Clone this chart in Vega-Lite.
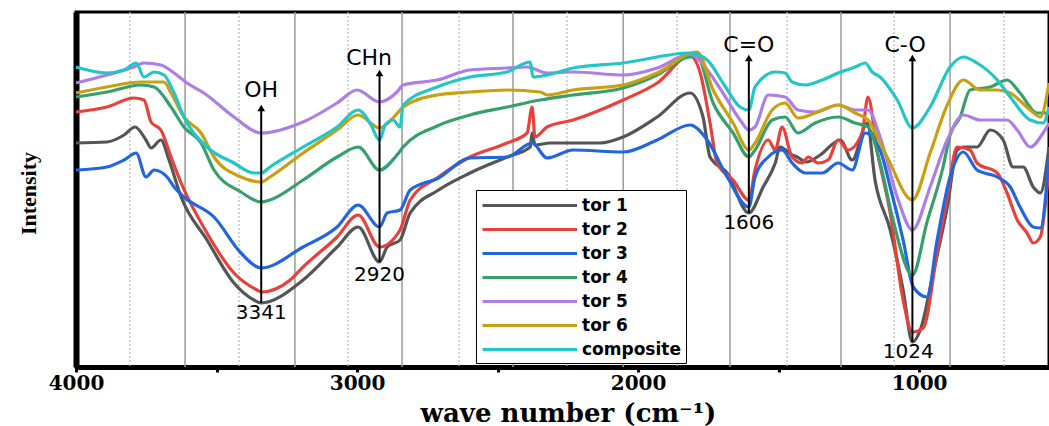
{
  "$schema": "https://vega.github.io/schema/vega-lite/v6.json",
  "width": 973,
  "height": 355,
  "autosize": {"type": "none"},
  "padding": {"left": 76, "top": 12, "right": 0, "bottom": 59},
  "background": "white",
  "config": {"view": {"stroke": "black", "strokeWidth": 3}},
  "datasets": {
    "gridSolid": [{"wn": 3612}, {"wn": 3221}, {"wn": 2840}, {"wn": 2445}, {"wn": 2053}, {"wn": 1673}, {"wn": 1278}, {"wn": 890}],
    "gridDotted": [{"wn": 3808}, {"wn": 3420}, {"wn": 3032}, {"wn": 2637}, {"wn": 2253}, {"wn": 1861}, {"wn": 1470}, {"wn": 1089}, {"wn": 698}],
    "arrows": [
      {"wn": 3341, "v1": 64, "v2": 259},
      {"wn": 2920, "v1": 105, "v2": 294},
      {"wn": 1606, "v1": 154, "v2": 309},
      {"wn": 1024, "v1": 25, "v2": 309}
    ],
    "bonds": [
      {"wn": 3341, "v": 277, "label": "OH"},
      {"wn": 2957, "v": 309, "label": "CHn"},
      {"wn": 1606, "v": 322, "label": "C=O"},
      {"wn": 1050, "v": 322, "label": "C-O"}
    ],
    "peaks": [
      {"wn": 3341, "v": 54, "label": "3341"},
      {"wn": 2920, "v": 92, "label": "2920"},
      {"wn": 1606, "v": 144, "label": "1606"},
      {"wn": 1039, "v": 15, "label": "1024"}
    ],
    "spectra": [
      {"s": "tor 1", "wn": 4000, "v": 224}, {"s": "tor 1", "wn": 3890, "v": 225}, {"s": "tor 1", "wn": 3829, "v": 232}, {"s": "tor 1", "wn": 3790, "v": 240}, {"s": "tor 1", "wn": 3751, "v": 227}, {"s": "tor 1", "wn": 3733, "v": 219}, {"s": "tor 1", "wn": 3698, "v": 227}, {"s": "tor 1", "wn": 3669, "v": 207}, {"s": "tor 1", "wn": 3626, "v": 170}, {"s": "tor 1", "wn": 3534, "v": 127}, {"s": "tor 1", "wn": 3438, "v": 84}, {"s": "tor 1", "wn": 3367, "v": 67}, {"s": "tor 1", "wn": 3341, "v": 64}, {"s": "tor 1", "wn": 3192, "v": 87}, {"s": "tor 1", "wn": 3071, "v": 120}, {"s": "tor 1", "wn": 2996, "v": 140}, {"s": "tor 1", "wn": 2920, "v": 105}, {"s": "tor 1", "wn": 2893, "v": 120}, {"s": "tor 1", "wn": 2847, "v": 127}, {"s": "tor 1", "wn": 2811, "v": 154}, {"s": "tor 1", "wn": 2710, "v": 177}, {"s": "tor 1", "wn": 2598, "v": 194}, {"s": "tor 1", "wn": 2466, "v": 210}, {"s": "tor 1", "wn": 2384, "v": 220}, {"s": "tor 1", "wn": 2377, "v": 234}, {"s": "tor 1", "wn": 2367, "v": 222}, {"s": "tor 1", "wn": 2313, "v": 224}, {"s": "tor 1", "wn": 2231, "v": 224}, {"s": "tor 1", "wn": 2135, "v": 224}, {"s": "tor 1", "wn": 2053, "v": 230}, {"s": "tor 1", "wn": 1932, "v": 250}, {"s": "tor 1", "wn": 1815, "v": 274}, {"s": "tor 1", "wn": 1769, "v": 250}, {"s": "tor 1", "wn": 1744, "v": 210}, {"s": "tor 1", "wn": 1683, "v": 194}, {"s": "tor 1", "wn": 1606, "v": 154}, {"s": "tor 1", "wn": 1555, "v": 180}, {"s": "tor 1", "wn": 1512, "v": 204}, {"s": "tor 1", "wn": 1495, "v": 220}, {"s": "tor 1", "wn": 1452, "v": 212}, {"s": "tor 1", "wn": 1434, "v": 210}, {"s": "tor 1", "wn": 1401, "v": 205}, {"s": "tor 1", "wn": 1352, "v": 212}, {"s": "tor 1", "wn": 1281, "v": 227}, {"s": "tor 1", "wn": 1238, "v": 207}, {"s": "tor 1", "wn": 1185, "v": 244}, {"s": "tor 1", "wn": 1157, "v": 187}, {"s": "tor 1", "wn": 1103, "v": 137}, {"s": "tor 1", "wn": 1057, "v": 77}, {"s": "tor 1", "wn": 1024, "v": 25}, {"s": "tor 1", "wn": 996, "v": 37}, {"s": "tor 1", "wn": 950, "v": 94}, {"s": "tor 1", "wn": 900, "v": 160}, {"s": "tor 1", "wn": 865, "v": 217}, {"s": "tor 1", "wn": 843, "v": 220}, {"s": "tor 1", "wn": 794, "v": 220}, {"s": "tor 1", "wn": 747, "v": 237}, {"s": "tor 1", "wn": 701, "v": 227}, {"s": "tor 1", "wn": 666, "v": 200}, {"s": "tor 1", "wn": 630, "v": 200}, {"s": "tor 1", "wn": 594, "v": 180}, {"s": "tor 1", "wn": 569, "v": 174}, {"s": "tor 1", "wn": 538, "v": 220},
      {"s": "tor 2", "wn": 4000, "v": 255}, {"s": "tor 2", "wn": 3890, "v": 260}, {"s": "tor 2", "wn": 3794, "v": 269}, {"s": "tor 2", "wn": 3758, "v": 267}, {"s": "tor 2", "wn": 3733, "v": 245}, {"s": "tor 2", "wn": 3698, "v": 237}, {"s": "tor 2", "wn": 3662, "v": 210}, {"s": "tor 2", "wn": 3626, "v": 184}, {"s": "tor 2", "wn": 3534, "v": 134}, {"s": "tor 2", "wn": 3438, "v": 94}, {"s": "tor 2", "wn": 3356, "v": 77}, {"s": "tor 2", "wn": 3341, "v": 75}, {"s": "tor 2", "wn": 3238, "v": 87}, {"s": "tor 2", "wn": 3192, "v": 100}, {"s": "tor 2", "wn": 3071, "v": 130}, {"s": "tor 2", "wn": 2996, "v": 152}, {"s": "tor 2", "wn": 2920, "v": 120}, {"s": "tor 2", "wn": 2847, "v": 137}, {"s": "tor 2", "wn": 2811, "v": 167}, {"s": "tor 2", "wn": 2710, "v": 190}, {"s": "tor 2", "wn": 2598, "v": 210}, {"s": "tor 2", "wn": 2466, "v": 224}, {"s": "tor 2", "wn": 2395, "v": 234}, {"s": "tor 2", "wn": 2377, "v": 260}, {"s": "tor 2", "wn": 2367, "v": 230}, {"s": "tor 2", "wn": 2324, "v": 240}, {"s": "tor 2", "wn": 2231, "v": 247}, {"s": "tor 2", "wn": 2053, "v": 267}, {"s": "tor 2", "wn": 1932, "v": 284}, {"s": "tor 2", "wn": 1815, "v": 311}, {"s": "tor 2", "wn": 1779, "v": 294}, {"s": "tor 2", "wn": 1744, "v": 244}, {"s": "tor 2", "wn": 1719, "v": 204}, {"s": "tor 2", "wn": 1662, "v": 187}, {"s": "tor 2", "wn": 1606, "v": 167}, {"s": "tor 2", "wn": 1584, "v": 197}, {"s": "tor 2", "wn": 1537, "v": 227}, {"s": "tor 2", "wn": 1512, "v": 217}, {"s": "tor 2", "wn": 1488, "v": 240}, {"s": "tor 2", "wn": 1452, "v": 210}, {"s": "tor 2", "wn": 1416, "v": 204}, {"s": "tor 2", "wn": 1395, "v": 210}, {"s": "tor 2", "wn": 1359, "v": 204}, {"s": "tor 2", "wn": 1324, "v": 207}, {"s": "tor 2", "wn": 1288, "v": 227}, {"s": "tor 2", "wn": 1253, "v": 217}, {"s": "tor 2", "wn": 1203, "v": 234}, {"s": "tor 2", "wn": 1182, "v": 270}, {"s": "tor 2", "wn": 1150, "v": 217}, {"s": "tor 2", "wn": 1103, "v": 154}, {"s": "tor 2", "wn": 1057, "v": 67}, {"s": "tor 2", "wn": 1024, "v": 35}, {"s": "tor 2", "wn": 986, "v": 39}, {"s": "tor 2", "wn": 936, "v": 114}, {"s": "tor 2", "wn": 900, "v": 170}, {"s": "tor 2", "wn": 865, "v": 220}, {"s": "tor 2", "wn": 819, "v": 217}, {"s": "tor 2", "wn": 794, "v": 204}, {"s": "tor 2", "wn": 722, "v": 194}, {"s": "tor 2", "wn": 687, "v": 174}, {"s": "tor 2", "wn": 651, "v": 147}, {"s": "tor 2", "wn": 616, "v": 134}, {"s": "tor 2", "wn": 594, "v": 124}, {"s": "tor 2", "wn": 569, "v": 130}, {"s": "tor 2", "wn": 538, "v": 200},
      {"s": "tor 3", "wn": 4000, "v": 197}, {"s": "tor 3", "wn": 3890, "v": 200}, {"s": "tor 3", "wn": 3829, "v": 207}, {"s": "tor 3", "wn": 3786, "v": 214}, {"s": "tor 3", "wn": 3751, "v": 190}, {"s": "tor 3", "wn": 3722, "v": 197}, {"s": "tor 3", "wn": 3676, "v": 190}, {"s": "tor 3", "wn": 3651, "v": 180}, {"s": "tor 3", "wn": 3616, "v": 170}, {"s": "tor 3", "wn": 3509, "v": 150}, {"s": "tor 3", "wn": 3413, "v": 114}, {"s": "tor 3", "wn": 3341, "v": 99}, {"s": "tor 3", "wn": 3192, "v": 120}, {"s": "tor 3", "wn": 3071, "v": 140}, {"s": "tor 3", "wn": 2996, "v": 162}, {"s": "tor 3", "wn": 2920, "v": 140}, {"s": "tor 3", "wn": 2893, "v": 154}, {"s": "tor 3", "wn": 2847, "v": 157}, {"s": "tor 3", "wn": 2811, "v": 177}, {"s": "tor 3", "wn": 2710, "v": 189}, {"s": "tor 3", "wn": 2598, "v": 209}, {"s": "tor 3", "wn": 2466, "v": 210}, {"s": "tor 3", "wn": 2377, "v": 224}, {"s": "tor 3", "wn": 2324, "v": 209}, {"s": "tor 3", "wn": 2231, "v": 217}, {"s": "tor 3", "wn": 2053, "v": 215}, {"s": "tor 3", "wn": 1932, "v": 227}, {"s": "tor 3", "wn": 1815, "v": 242}, {"s": "tor 3", "wn": 1754, "v": 227}, {"s": "tor 3", "wn": 1683, "v": 190}, {"s": "tor 3", "wn": 1606, "v": 160}, {"s": "tor 3", "wn": 1584, "v": 190}, {"s": "tor 3", "wn": 1537, "v": 210}, {"s": "tor 3", "wn": 1488, "v": 217}, {"s": "tor 3", "wn": 1452, "v": 204}, {"s": "tor 3", "wn": 1406, "v": 194}, {"s": "tor 3", "wn": 1345, "v": 194}, {"s": "tor 3", "wn": 1288, "v": 204}, {"s": "tor 3", "wn": 1238, "v": 197}, {"s": "tor 3", "wn": 1192, "v": 234}, {"s": "tor 3", "wn": 1139, "v": 217}, {"s": "tor 3", "wn": 1103, "v": 180}, {"s": "tor 3", "wn": 1057, "v": 127}, {"s": "tor 3", "wn": 1021, "v": 80}, {"s": "tor 3", "wn": 972, "v": 70}, {"s": "tor 3", "wn": 936, "v": 127}, {"s": "tor 3", "wn": 890, "v": 190}, {"s": "tor 3", "wn": 843, "v": 215}, {"s": "tor 3", "wn": 794, "v": 197}, {"s": "tor 3", "wn": 722, "v": 190}, {"s": "tor 3", "wn": 676, "v": 180}, {"s": "tor 3", "wn": 641, "v": 160}, {"s": "tor 3", "wn": 594, "v": 140}, {"s": "tor 3", "wn": 569, "v": 139}, {"s": "tor 3", "wn": 538, "v": 210},
      {"s": "tor 4", "wn": 4000, "v": 270}, {"s": "tor 4", "wn": 3890, "v": 275}, {"s": "tor 4", "wn": 3769, "v": 282}, {"s": "tor 4", "wn": 3722, "v": 280}, {"s": "tor 4", "wn": 3662, "v": 260}, {"s": "tor 4", "wn": 3616, "v": 240}, {"s": "tor 4", "wn": 3555, "v": 224}, {"s": "tor 4", "wn": 3509, "v": 197}, {"s": "tor 4", "wn": 3413, "v": 175}, {"s": "tor 4", "wn": 3341, "v": 165}, {"s": "tor 4", "wn": 3310, "v": 167}, {"s": "tor 4", "wn": 3192, "v": 187}, {"s": "tor 4", "wn": 3071, "v": 210}, {"s": "tor 4", "wn": 2996, "v": 220}, {"s": "tor 4", "wn": 2920, "v": 197}, {"s": "tor 4", "wn": 2858, "v": 212}, {"s": "tor 4", "wn": 2836, "v": 220}, {"s": "tor 4", "wn": 2715, "v": 241}, {"s": "tor 4", "wn": 2598, "v": 252}, {"s": "tor 4", "wn": 2466, "v": 260}, {"s": "tor 4", "wn": 2349, "v": 267}, {"s": "tor 4", "wn": 2231, "v": 272}, {"s": "tor 4", "wn": 2053, "v": 279}, {"s": "tor 4", "wn": 1932, "v": 292}, {"s": "tor 4", "wn": 1815, "v": 310}, {"s": "tor 4", "wn": 1790, "v": 310}, {"s": "tor 4", "wn": 1733, "v": 264}, {"s": "tor 4", "wn": 1662, "v": 234}, {"s": "tor 4", "wn": 1606, "v": 210}, {"s": "tor 4", "wn": 1584, "v": 217}, {"s": "tor 4", "wn": 1523, "v": 247}, {"s": "tor 4", "wn": 1477, "v": 250}, {"s": "tor 4", "wn": 1431, "v": 234}, {"s": "tor 4", "wn": 1370, "v": 244}, {"s": "tor 4", "wn": 1288, "v": 250}, {"s": "tor 4", "wn": 1228, "v": 244}, {"s": "tor 4", "wn": 1182, "v": 240}, {"s": "tor 4", "wn": 1139, "v": 204}, {"s": "tor 4", "wn": 1093, "v": 147}, {"s": "tor 4", "wn": 1024, "v": 92}, {"s": "tor 4", "wn": 972, "v": 145}, {"s": "tor 4", "wn": 915, "v": 200}, {"s": "tor 4", "wn": 890, "v": 232}, {"s": "tor 4", "wn": 854, "v": 250}, {"s": "tor 4", "wn": 819, "v": 277}, {"s": "tor 4", "wn": 747, "v": 280}, {"s": "tor 4", "wn": 687, "v": 287}, {"s": "tor 4", "wn": 641, "v": 274}, {"s": "tor 4", "wn": 580, "v": 254}, {"s": "tor 4", "wn": 538, "v": 254},
      {"s": "tor 5", "wn": 4000, "v": 284}, {"s": "tor 5", "wn": 3890, "v": 292}, {"s": "tor 5", "wn": 3794, "v": 300}, {"s": "tor 5", "wn": 3758, "v": 304}, {"s": "tor 5", "wn": 3698, "v": 302}, {"s": "tor 5", "wn": 3651, "v": 294}, {"s": "tor 5", "wn": 3605, "v": 284}, {"s": "tor 5", "wn": 3545, "v": 274}, {"s": "tor 5", "wn": 3438, "v": 250}, {"s": "tor 5", "wn": 3341, "v": 234}, {"s": "tor 5", "wn": 3192, "v": 245}, {"s": "tor 5", "wn": 3071, "v": 264}, {"s": "tor 5", "wn": 3000, "v": 277}, {"s": "tor 5", "wn": 2920, "v": 265}, {"s": "tor 5", "wn": 2858, "v": 275}, {"s": "tor 5", "wn": 2836, "v": 282}, {"s": "tor 5", "wn": 2715, "v": 287}, {"s": "tor 5", "wn": 2598, "v": 297}, {"s": "tor 5", "wn": 2466, "v": 299}, {"s": "tor 5", "wn": 2395, "v": 300}, {"s": "tor 5", "wn": 2324, "v": 294}, {"s": "tor 5", "wn": 2231, "v": 295}, {"s": "tor 5", "wn": 2053, "v": 292}, {"s": "tor 5", "wn": 1932, "v": 299}, {"s": "tor 5", "wn": 1815, "v": 313}, {"s": "tor 5", "wn": 1754, "v": 297}, {"s": "tor 5", "wn": 1698, "v": 274}, {"s": "tor 5", "wn": 1637, "v": 247}, {"s": "tor 5", "wn": 1606, "v": 237}, {"s": "tor 5", "wn": 1584, "v": 240}, {"s": "tor 5", "wn": 1537, "v": 272}, {"s": "tor 5", "wn": 1477, "v": 270}, {"s": "tor 5", "wn": 1431, "v": 257}, {"s": "tor 5", "wn": 1370, "v": 255}, {"s": "tor 5", "wn": 1288, "v": 262}, {"s": "tor 5", "wn": 1228, "v": 257}, {"s": "tor 5", "wn": 1182, "v": 257}, {"s": "tor 5", "wn": 1139, "v": 230}, {"s": "tor 5", "wn": 1078, "v": 170}, {"s": "tor 5", "wn": 1024, "v": 137}, {"s": "tor 5", "wn": 961, "v": 180}, {"s": "tor 5", "wn": 900, "v": 227}, {"s": "tor 5", "wn": 843, "v": 252}, {"s": "tor 5", "wn": 783, "v": 247}, {"s": "tor 5", "wn": 687, "v": 247}, {"s": "tor 5", "wn": 651, "v": 237}, {"s": "tor 5", "wn": 605, "v": 220}, {"s": "tor 5", "wn": 559, "v": 234}, {"s": "tor 5", "wn": 538, "v": 244},
      {"s": "tor 6", "wn": 4000, "v": 274}, {"s": "tor 6", "wn": 3890, "v": 280}, {"s": "tor 6", "wn": 3769, "v": 285}, {"s": "tor 6", "wn": 3687, "v": 285}, {"s": "tor 6", "wn": 3662, "v": 274}, {"s": "tor 6", "wn": 3616, "v": 250}, {"s": "tor 6", "wn": 3555, "v": 234}, {"s": "tor 6", "wn": 3509, "v": 210}, {"s": "tor 6", "wn": 3413, "v": 190}, {"s": "tor 6", "wn": 3341, "v": 185}, {"s": "tor 6", "wn": 3310, "v": 190}, {"s": "tor 6", "wn": 3192, "v": 214}, {"s": "tor 6", "wn": 3071, "v": 237}, {"s": "tor 6", "wn": 2996, "v": 252}, {"s": "tor 6", "wn": 2920, "v": 239}, {"s": "tor 6", "wn": 2872, "v": 249}, {"s": "tor 6", "wn": 2836, "v": 260}, {"s": "tor 6", "wn": 2715, "v": 272}, {"s": "tor 6", "wn": 2598, "v": 275}, {"s": "tor 6", "wn": 2466, "v": 277}, {"s": "tor 6", "wn": 2349, "v": 275}, {"s": "tor 6", "wn": 2324, "v": 272}, {"s": "tor 6", "wn": 2231, "v": 277}, {"s": "tor 6", "wn": 2053, "v": 282}, {"s": "tor 6", "wn": 1932, "v": 294}, {"s": "tor 6", "wn": 1790, "v": 315}, {"s": "tor 6", "wn": 1733, "v": 277}, {"s": "tor 6", "wn": 1662, "v": 244}, {"s": "tor 6", "wn": 1606, "v": 217}, {"s": "tor 6", "wn": 1584, "v": 224}, {"s": "tor 6", "wn": 1523, "v": 257}, {"s": "tor 6", "wn": 1477, "v": 264}, {"s": "tor 6", "wn": 1431, "v": 249}, {"s": "tor 6", "wn": 1370, "v": 254}, {"s": "tor 6", "wn": 1288, "v": 262}, {"s": "tor 6", "wn": 1228, "v": 254}, {"s": "tor 6", "wn": 1182, "v": 247}, {"s": "tor 6", "wn": 1114, "v": 210}, {"s": "tor 6", "wn": 1024, "v": 167}, {"s": "tor 6", "wn": 961, "v": 214}, {"s": "tor 6", "wn": 900, "v": 262}, {"s": "tor 6", "wn": 843, "v": 287}, {"s": "tor 6", "wn": 783, "v": 277}, {"s": "tor 6", "wn": 722, "v": 277}, {"s": "tor 6", "wn": 676, "v": 274}, {"s": "tor 6", "wn": 605, "v": 257}, {"s": "tor 6", "wn": 569, "v": 250}, {"s": "tor 6", "wn": 538, "v": 284},
      {"s": "composite", "wn": 4000, "v": 300}, {"s": "composite", "wn": 3890, "v": 294}, {"s": "composite", "wn": 3829, "v": 297}, {"s": "composite", "wn": 3786, "v": 304}, {"s": "composite", "wn": 3758, "v": 290}, {"s": "composite", "wn": 3722, "v": 295}, {"s": "composite", "wn": 3687, "v": 292}, {"s": "composite", "wn": 3651, "v": 274}, {"s": "composite", "wn": 3616, "v": 250}, {"s": "composite", "wn": 3534, "v": 220}, {"s": "composite", "wn": 3438, "v": 204}, {"s": "composite", "wn": 3367, "v": 194}, {"s": "composite", "wn": 3341, "v": 194}, {"s": "composite", "wn": 3310, "v": 200}, {"s": "composite", "wn": 3192, "v": 220}, {"s": "composite", "wn": 3071, "v": 240}, {"s": "composite", "wn": 2996, "v": 257}, {"s": "composite", "wn": 2954, "v": 244}, {"s": "composite", "wn": 2920, "v": 227}, {"s": "composite", "wn": 2900, "v": 242}, {"s": "composite", "wn": 2872, "v": 247}, {"s": "composite", "wn": 2847, "v": 240}, {"s": "composite", "wn": 2836, "v": 262}, {"s": "composite", "wn": 2715, "v": 280}, {"s": "composite", "wn": 2598, "v": 290}, {"s": "composite", "wn": 2466, "v": 295}, {"s": "composite", "wn": 2384, "v": 305}, {"s": "composite", "wn": 2374, "v": 290}, {"s": "composite", "wn": 2324, "v": 292}, {"s": "composite", "wn": 2231, "v": 299}, {"s": "composite", "wn": 2053, "v": 304}, {"s": "composite", "wn": 1815, "v": 314}, {"s": "composite", "wn": 1754, "v": 307}, {"s": "composite", "wn": 1698, "v": 284}, {"s": "composite", "wn": 1637, "v": 260}, {"s": "composite", "wn": 1606, "v": 257}, {"s": "composite", "wn": 1584, "v": 280}, {"s": "composite", "wn": 1512, "v": 295}, {"s": "composite", "wn": 1477, "v": 294}, {"s": "composite", "wn": 1452, "v": 285}, {"s": "composite", "wn": 1406, "v": 282}, {"s": "composite", "wn": 1345, "v": 287}, {"s": "composite", "wn": 1288, "v": 294}, {"s": "composite", "wn": 1228, "v": 300}, {"s": "composite", "wn": 1192, "v": 304}, {"s": "composite", "wn": 1167, "v": 295}, {"s": "composite", "wn": 1139, "v": 290}, {"s": "composite", "wn": 1078, "v": 267}, {"s": "composite", "wn": 1024, "v": 239}, {"s": "composite", "wn": 961, "v": 260}, {"s": "composite", "wn": 890, "v": 300}, {"s": "composite", "wn": 843, "v": 310}, {"s": "composite", "wn": 794, "v": 304}, {"s": "composite", "wn": 722, "v": 287}, {"s": "composite", "wn": 676, "v": 270}, {"s": "composite", "wn": 605, "v": 247}, {"s": "composite", "wn": 559, "v": 244}, {"s": "composite", "wn": 538, "v": 260}
    ]
  },
  "layer": [
    {
      "data": {"name": "gridDotted"},
      "mark": {"type": "rule", "color": "#b8b8b8", "strokeWidth": 1.2, "strokeDash": [2, 2]},
      "encoding": {
        "x": {"field": "wn", "type": "quantitative", "scale": {"domain": [4000, 538], "nice": false, "zero": false}}
      }
    },
    {
      "data": {"name": "gridSolid"},
      "mark": {"type": "rule", "color": "#9a9a9a", "strokeWidth": 1.5},
      "encoding": {
        "x": {"field": "wn", "type": "quantitative", "scale": {"domain": [4000, 538], "nice": false, "zero": false}}
      }
    },
    {
      "data": {"name": "spectra"},
      "mark": {"type": "line", "strokeWidth": 3.2, "strokeJoin": "round", "interpolate": "monotone"},
      "encoding": {
        "x": {
          "field": "wn", "type": "quantitative",
          "scale": {"domain": [4000, 538], "nice": false, "zero": false},
          "axis": {
            "values": [4000, 3500, 3000, 2500, 2000, 1500, 1000],
            "format": "d",
            "labelExpr": "datum.value % 1000 == 0 ? datum.label : ''",
            "title": "wave number (cm⁻¹)",
            "titleFont": "DejaVu Serif", "titleFontWeight": "bold", "titleFontSize": 26, "titleColor": "black",
            "titleX": 492, "titleY": 46, "titleBaseline": "middle", "titleAlign": "center",
            "labelFont": "DejaVu Serif", "labelFontWeight": "bold", "labelFontSize": 20, "labelColor": "black",
            "labelPadding": 1, "labelFlush": false, "labelOverlap": false,
            "tickColor": "black", "tickWidth": 3, "tickSize": 5,
            "domainColor": "black", "domainWidth": 5, "grid": false
          }
        },
        "y": {
          "field": "v", "type": "quantitative",
          "scale": {"domain": [0, 355], "nice": false, "zero": false},
          "axis": {
            "title": "Intensity", "labels": false, "ticks": false, "grid": false,
            "domainColor": "black", "domainWidth": 6,
            "titleFont": "Liberation Serif", "titleFontWeight": "bold", "titleFontSize": 22, "titleColor": "black",
            "titleX": -48, "titleY": 181, "titleAngle": -90, "titleAlign": "center", "titleBaseline": "middle"
          }
        },
        "color": {
          "field": "s", "type": "nominal",
          "scale": {
            "domain": ["tor 1", "tor 2", "tor 3", "tor 4", "tor 5", "tor 6", "composite"],
            "range": ["#555555", "#e8413c", "#2266dd", "#35a06b", "#ad7ee6", "#c9a012", "#22c5c8"]
          },
          "legend": {
            "orient": "none", "legendX": 400, "legendY": 178, "title": null,
            "symbolType": "M-1,0H9.5", "symbolSize": 324, "symbolStrokeWidth": 3,
            "labelFont": "DejaVu Sans", "labelFontWeight": "bold", "labelFontSize": 17, "labelColor": "black",
            "strokeColor": "black", "fillColor": "white", "padding": 5, "rowPadding": 5, "labelOffset": 80
          }
        },
        "detail": {"field": "s"}
      }
    },
    {
      "data": {"name": "arrows"},
      "mark": {"type": "rule", "color": "black", "strokeWidth": 2},
      "encoding": {
        "x": {"field": "wn", "type": "quantitative", "scale": {"domain": [4000, 538], "nice": false, "zero": false}},
        "y": {"field": "v1", "type": "quantitative", "scale": {"domain": [0, 355], "nice": false, "zero": false}},
        "y2": {"field": "v2"}
      }
    },
    {
      "data": {"name": "arrows"},
      "mark": {"type": "point", "shape": "triangle-up", "filled": true, "color": "black", "size": 60, "opacity": 1},
      "encoding": {
        "x": {"field": "wn", "type": "quantitative", "scale": {"domain": [4000, 538], "nice": false, "zero": false}},
        "y": {"field": "v2", "type": "quantitative", "scale": {"domain": [0, 355], "nice": false, "zero": false}}
      }
    },
    {
      "data": {"name": "bonds"},
      "mark": {"type": "text", "font": "DejaVu Sans", "fontSize": 22, "color": "black", "align": "center", "baseline": "middle"},
      "encoding": {
        "x": {"field": "wn", "type": "quantitative", "scale": {"domain": [4000, 538], "nice": false, "zero": false}},
        "y": {"field": "v", "type": "quantitative", "scale": {"domain": [0, 355], "nice": false, "zero": false}},
        "text": {"field": "label"}
      }
    },
    {
      "data": {"name": "peaks"},
      "mark": {"type": "text", "font": "DejaVu Sans", "fontSize": 20, "color": "black", "align": "center", "baseline": "middle"},
      "encoding": {
        "x": {"field": "wn", "type": "quantitative", "scale": {"domain": [4000, 538], "nice": false, "zero": false}},
        "y": {"field": "v", "type": "quantitative", "scale": {"domain": [0, 355], "nice": false, "zero": false}},
        "text": {"field": "label"}
      }
    }
  ]
}
